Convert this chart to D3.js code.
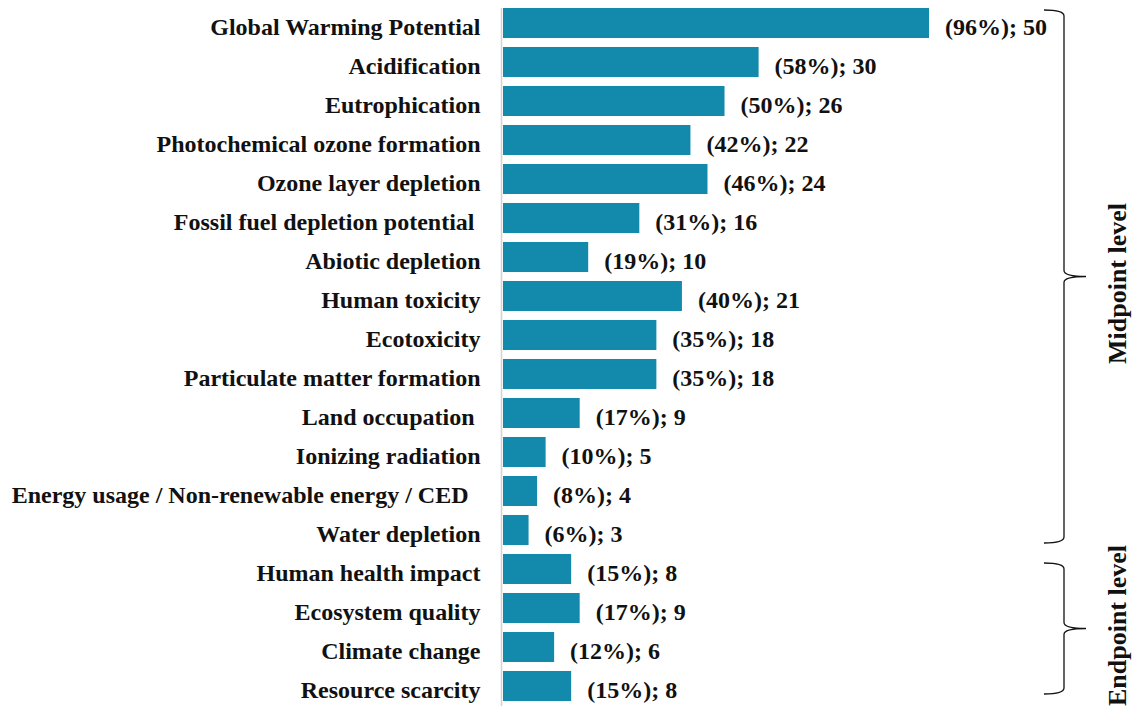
<!DOCTYPE html>
<html>
<head>
<meta charset="utf-8">
<script src="https://cdn.jsdelivr.net/npm/d3@7"></script>
<style>
  html, body { margin: 0; padding: 0; background: #fff; }
  svg { display: block; }
  text { font-family: "Liberation Serif", "Times New Roman", serif; font-weight: bold; fill: #111; }
</style>
</head>
<body>
<svg id="chart" width="1132" height="706"></svg>
<script>
// Impact categories (top to bottom) with number of studies and share
const categories = [
  "Global Warming Potential",
  "Acidification",
  "Eutrophication",
  "Photochemical ozone formation",
  "Ozone layer depletion",
  "Fossil fuel depletion potential ",
  "Abiotic depletion",
  "Human toxicity",
  "Ecotoxicity",
  "Particulate matter formation",
  "Land occupation ",
  "Ionizing radiation",
  "Energy usage / Non-renewable energy / CED  ",
  "Water depletion",
  "Human health impact",
  "Ecosystem quality",
  "Climate change",
  "Resource scarcity"
];
const counts   = [50, 30, 26, 22, 24, 16, 10, 21, 18, 18, 9, 5, 4, 3, 8, 9, 6, 8];
const percents = [96, 58, 50, 42, 46, 31, 19, 40, 35, 35, 17, 10, 8, 6, 15, 17, 12, 15];

// Grouping braces on the right
const groupNames = ["Midpoint level", "Endpoint level"];
const groupFirst = ["Global Warming Potential", "Human health impact"];
const groupLast  = ["Water depletion", "Resource scarcity"];

const svg = d3.select("#chart");
const barColor = "#1389ab";
const fontSize = 24;
const textDrop = 4; // labels sit slightly below the bar centre

const x = d3.scaleLinear().domain([0, 50]).range([503, 929]);
const y = d3.scaleBand().domain(categories).range([3.5, 705.5]).paddingInner(0.23).paddingOuter(0.115);

const rows = categories.map((c, i) => ({ cat: c, n: counts[i], pct: percents[i] }));

// Bars
svg.append("g").selectAll("rect")
  .data(rows)
  .join("rect")
  .attr("x", x(0))
  .attr("y", d => y(d.cat))
  .attr("width", d => x(d.n) - x(0))
  .attr("height", y.bandwidth())
  .attr("fill", barColor);

// Category axis (left), no ticks
const yAxis = svg.append("g")
  .attr("transform", "translate(501.5,0)")
  .call(d3.axisLeft(y).tickSize(0).tickPadding(21));
yAxis.select(".domain").attr("stroke", "#d4d4d4").attr("stroke-width", 1.6)
  .attr("d", "M0,8V706");
yAxis.selectAll(".tick text")
  .attr("font-size", fontSize)
  .style("font-family", '"Liberation Serif", "Times New Roman", serif')
  .style("font-weight", "bold")
  .style("white-space", "pre")
  .attr("fill", "#111")
  .attr("y", textDrop)
  .attr("dy", "0.35em");

// Value labels
svg.append("g").selectAll("text")
  .data(rows)
  .join("text")
  .attr("x", d => x(d.n) + 16)
  .attr("y", d => y(d.cat) + y.bandwidth() / 2 + textDrop)
  .attr("dy", "0.35em")
  .attr("font-size", fontSize)
  .text(d => `(${d.pct}%); ${d.n}`);

// Curly brace path: vertical at bx, hooks toward left at ends, tip pointing right
function bracePath(bx, y0, y1) {
  const ym = (y0 + y1) / 2;
  const h = 20, r = 6, t = 22;
  return [
    `M${bx - h},${y0}`,
    `Q${bx},${y0} ${bx},${y0 + r}`,
    `L${bx},${ym - r}`,
    `Q${bx},${ym} ${bx + t},${ym}`,
    `Q${bx},${ym} ${bx},${ym + r}`,
    `L${bx},${y1 - r}`,
    `Q${bx},${y1} ${bx - h},${y1}`
  ].join(" ");
}

const groups = groupNames.map((g, i) => ({
  name: g,
  y0: y(groupFirst[i]) + 2,
  y1: y(groupLast[i]) + y.bandwidth() - 2
}));
groups[1].y0 += 7;
groups[1].y1 -= 5;

const gb = svg.append("g");
gb.selectAll("path")
  .data(groups)
  .join("path")
  .attr("d", d => bracePath(1064, d.y0, d.y1))
  .attr("fill", "none")
  .attr("stroke", "#111")
  .attr("stroke-width", 1.3);

// Rotated group titles; the lower one is nudged up to stay inside the frame
gb.selectAll("text")
  .data(groups)
  .join("text")
  .attr("transform", (d, i) => `translate(1126,${(d.y0 + d.y1) / 2 + (i === 0 ? 7 : -3)}) rotate(-90)`)
  .attr("text-anchor", "middle")
  .attr("font-size", 26)
  .text(d => d.name);
</script>
</body>
</html>
